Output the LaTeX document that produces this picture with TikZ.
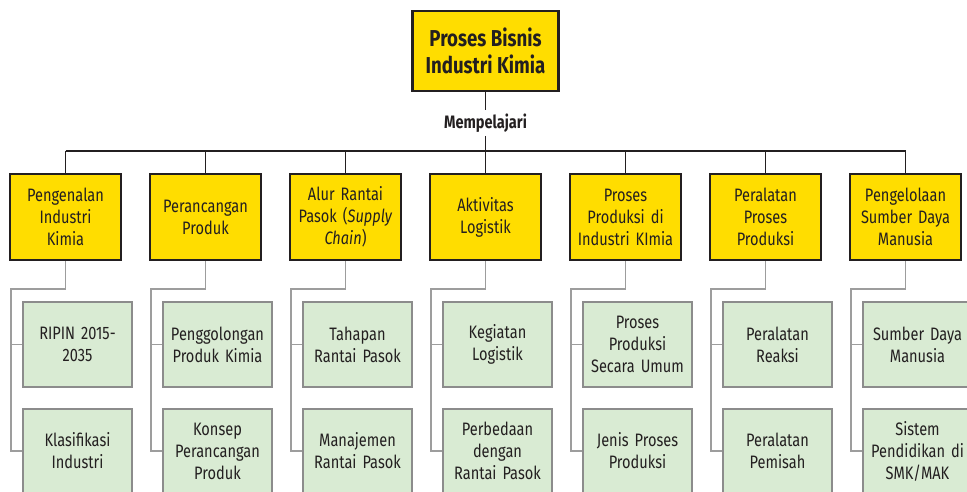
\documentclass[tikz,border=0pt]{standalone}
\usepackage{fontspec}
\setmainfont{Fira Sans}[FakeStretch=0.81]
\definecolor{ink}{HTML}{231F20}
\definecolor{kuning}{HTML}{FFDD00}
\definecolor{hijau}{HTML}{D9EBD3}
\definecolor{abu}{HTML}{8C8C8C}
\tikzset{
  rootbox/.style={draw=ink, line width=2.6pt, fill=kuning, minimum width=146pt, minimum height=80pt, align=center, text=ink, font=\fontsize{23}{27}\selectfont\bfseries},
  topicbox/.style={draw=ink, line width=2.2pt, fill=kuning, minimum width=111pt, minimum height=86pt, text width=105pt, inner sep=0pt, align=center, text=ink, font=\fontsize{18}{22}\selectfont},
  subbox/.style={draw=abu, line width=2pt, fill=hijau, minimum width=109pt, minimum height=85pt, text width=105pt, inner sep=0pt, align=center, text=ink, font=\fontsize{18}{22}\selectfont},
  trunk/.style={ink, line width=1.3pt},
  branch/.style={abu!85, line width=1.5pt},
}

\begin{document}
\begin{tikzpicture}[x=1pt,y=-1pt]
        \clip (0,0) rectangle (967,491);
        % root and verb
        \node[rootbox] (root) at (485.5,51) {Proses Bisnis\\Industri Kimia};
        \node[text=ink, font=\fontsize{18}{21}\selectfont\bfseries] (verb) at (485.5,123) {Mempelajari};
        \coordinate (bar) at (0,151);

        % topics with their two sub topics
        \foreach \i/\txt/\sa/\sb [evaluate=\i as \L using 11+140*(\i-1)] in {
            1/{Pengenalan\\Industri\\Kimia}/{RIPIN 2015-\\2035}/{Klasifikasi\\Industri},
            2/{Perancangan\\Produk}/{Penggolongan\\Produk Kimia}/{Konsep\\Perancangan\\Produk},
            3/{Alur Rantai\\Pasok (\textit{Supply}\\\textit{Chain})}/{Tahapan\\Rantai Pasok}/{Manajemen\\Rantai Pasok},
            4/{Aktivitas\\Logistik}/{Kegiatan\\Logistik}/{Perbedaan\\dengan\\Rantai Pasok},
            5/{Proses\\Produksi di\\Industri KImia}/{Proses\\Produksi\\Secara Umum}/{Jenis Proses\\Produksi},
            6/{Peralatan\\Proses\\Produksi}/{Peralatan\\Reaksi}/{Peralatan\\Pemisah},
            7/{Pengelolaan\\Sumber Daya\\Manusia}/{Sumber Daya\\Manusia}/{Sistem\\Pendidikan di\\SMK/MAK}}{
          \node[topicbox] (t\i) at ({\L+54.5},217) {\txt};
          \node[subbox] (s\i a) at ({\L+66.5},344.5) {\sa};
          \node[subbox] (s\i b) at ({\L+66.5},451) {\sb};
          \coordinate (k\i) at (\L,289);
          % tree from topic down to its sub topics
          \draw[branch] (t\i.south) |- (k\i) |- (s\i b.west);
          \draw[branch] (k\i |- s\i a.west) -- (s\i a.west);
          \draw[trunk] (t\i.north) -- (t\i.north |- bar);
        }

        % trunk lines
        \draw[trunk] (root.south) -- (verb.north);
        \draw[trunk] (verb.south) -- (t4.north);
        \draw[trunk] (t1.north |- bar) -- (t7.north |- bar);
    \end{tikzpicture}
\end{document}
